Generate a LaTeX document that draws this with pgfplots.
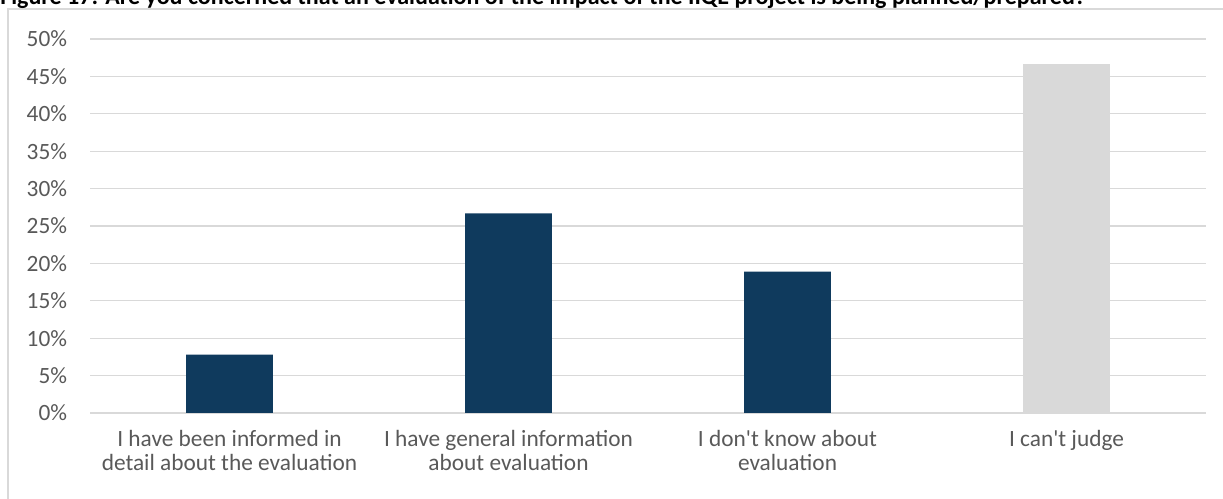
\documentclass[border=0pt]{standalone}
\usepackage{pgfplots}
\pgfplotsset{compat=1.18}
\usepackage{fontspec}
\setmainfont{Carlito}[Ligatures=TeXOff]
\definecolor{barblue}{HTML}{0F3A5D}
\definecolor{bargray}{HTML}{D9D9D9}
\definecolor{gridgray}{HTML}{D9D9D9}
\definecolor{textgray}{HTML}{595959}
\begin{document}
\begin{tikzpicture}
\path[use as bounding box] (0,0) rectangle (917.25pt,374.25pt);
\clip (0,0) rectangle (917.25pt,374.25pt);
\draw[gridgray, line width=1pt] (6pt,-5pt) rectangle (930pt,367.5pt);
\node[anchor=base west, font=\bfseries\fontsize{18}{21}\selectfont, inner sep=0pt] at (0pt,371pt) {Figure 17: Are you concerned that an evaluation of the impact of the IIQE project is being planned/prepared?};
\begin{axis}[
  at={(67.5pt,64.5pt)}, anchor=south west,
  scale only axis, width=837pt, height=280.5pt,
  xmin=-0.5, xmax=3.5, ymin=0, ymax=50,
  ytick={0,5,...,50},
  yticklabels={0\%,5\%,10\%,15\%,20\%,25\%,30\%,35\%,40\%,45\%,50\%},
  ymajorgrids, grid style={gridgray, line width=1pt},
  axis line style={draw=none}, major tick length=0pt,
  xtick={0,1,2,3},
  xticklabels={{I have been informed in\\detail about the evaluation},{I have general information\\about evaluation},{I don't know about\\evaluation},{I can't judge}},
  xticklabel style={align=center, anchor=north, inner sep=0pt, yshift=-13pt, font=\fontsize{17.5}{18}\selectfont, text=textgray},
  yticklabel style={anchor=east, inner sep=0pt, xshift=-17pt, font=\fontsize{17.5}{18}\selectfont, text=textgray},
  ybar, bar width=65pt, bar shift=0pt,
]
\addplot[fill=barblue, draw=none] coordinates {(0,7.8) (1,26.7) (2,18.9)};
\addplot[fill=bargray, draw=none] coordinates {(3,46.7)};
\end{axis}
\end{tikzpicture}
\end{document}
